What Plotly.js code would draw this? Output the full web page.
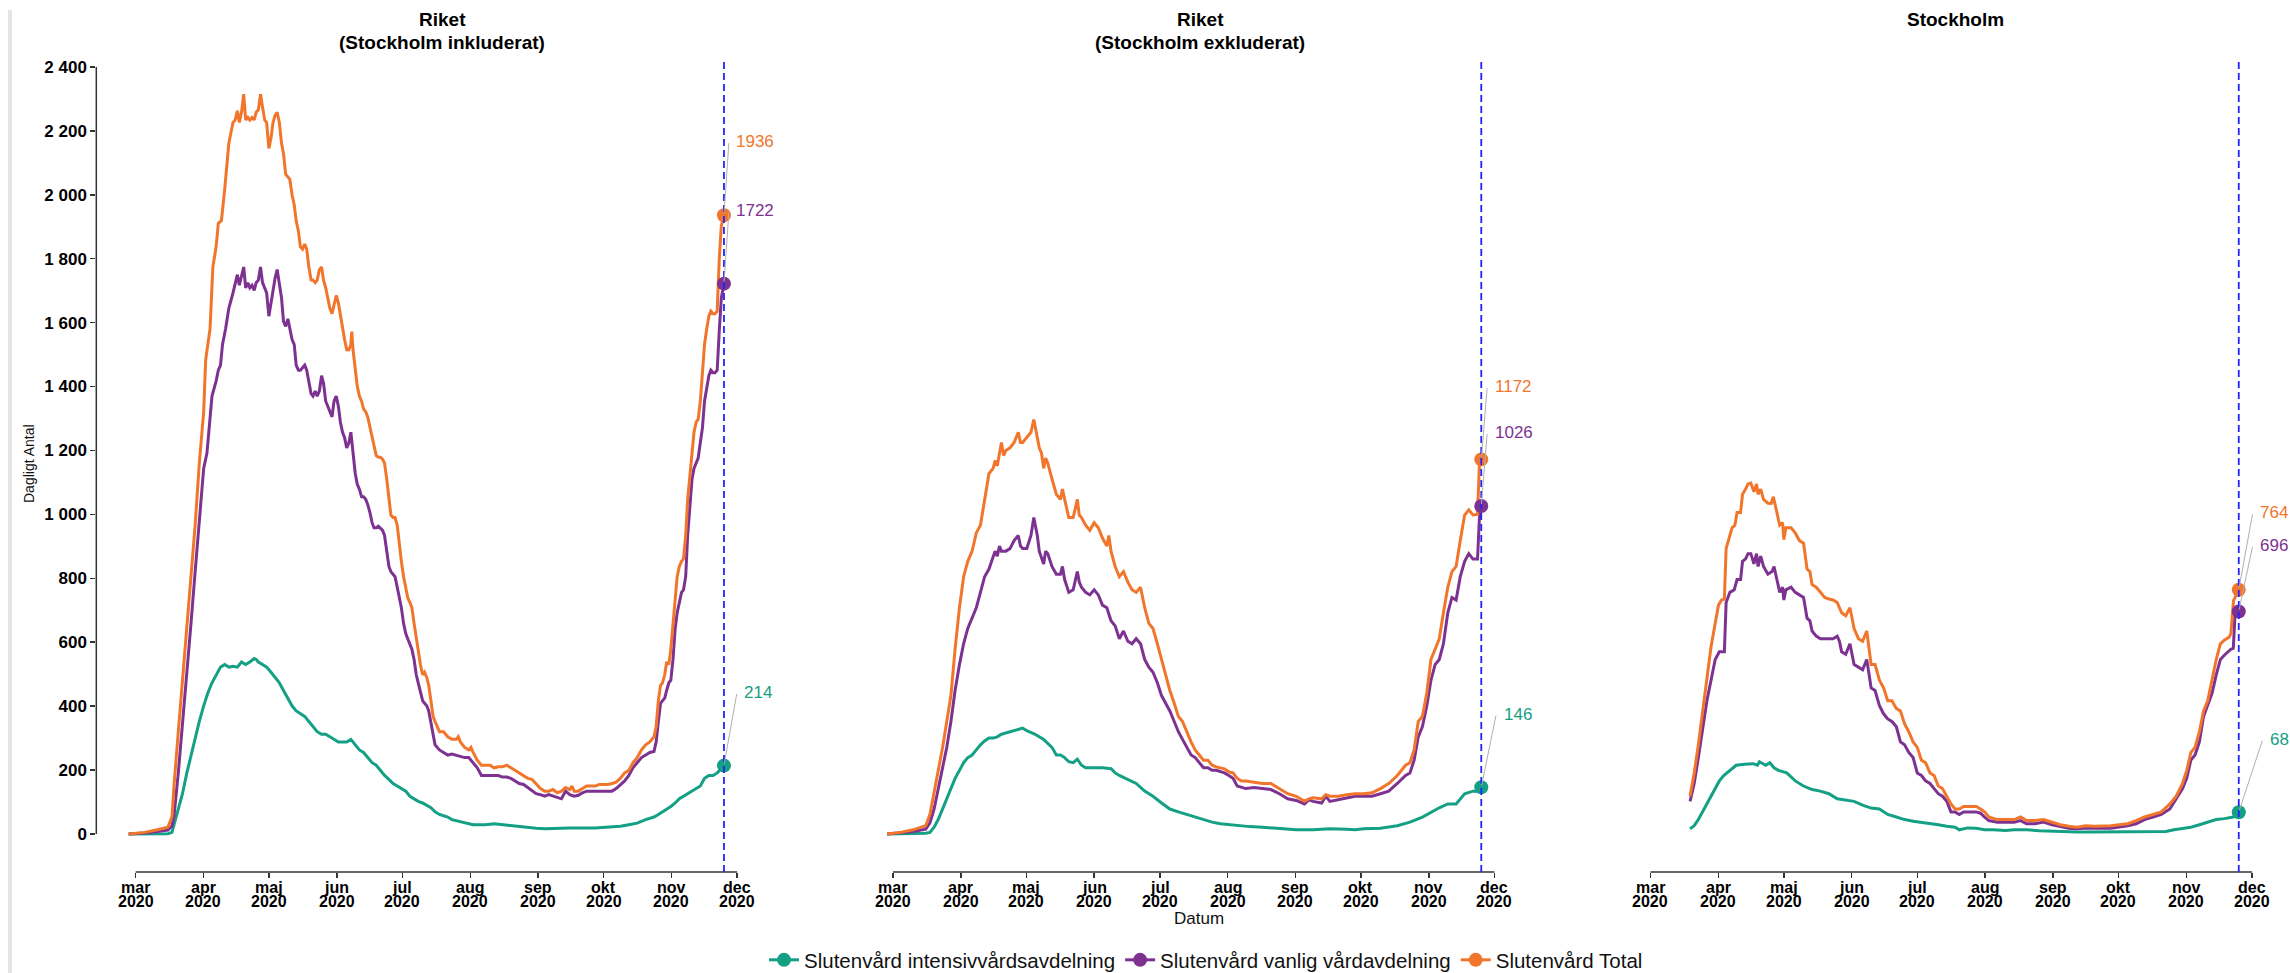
<!DOCTYPE html>
<html>
<head>
<meta charset="utf-8">
<script src="https://cdn.plot.ly/plotly-3.0.1.min.js"></script>
<style>
html,body{margin:0;padding:0;background:#ffffff;}
#chart{width:2290px;height:973px;}
</style>
</head>
<body>
<div id="chart"></div>
<script>
// ---------------- DATA (day offset from 2020-03-01, value) ----------------
const baseDay = '2020-03-01';
const months = ['mar','apr','maj','jun','jul','aug','sep','okt','nov','dec'];
const monthStarts = ['2020-03-01','2020-04-01','2020-05-01','2020-06-01','2020-07-01','2020-08-01','2020-09-01','2020-10-01','2020-11-01','2020-12-01'];
const tickYear = '2020';
const yTickVals = [0,200,400,600,800,1000,1200,1400,1600,1800,2000,2200,2400];
const yTickText = ['0','200','400','600','800','1 000','1 200','1 400','1 600','1 800','2 000','2 200','2 400'];
const seriesNames = ['Slutenvård intensivvårdsavdelning','Slutenvård vanlig vårdavdelning','Slutenvård Total'];
const panelTitles = [['Riket','(Stockholm inkluderat)'],['Riket','(Stockholm exkluderat)'],['Stockholm']];

// Riket (Stockholm inkluderat)
const inkl_iva = [[-3.2,0],[4.1,0],[9.9,0],[14.7,1],[16.6,5],[17.6,29],[19.5,78],[21.4,126],[23.4,191],[25.3,247],[27.2,296],[29.1,352],[31.1,401],[33.0,441],[34.9,473],[36.8,498],[38.8,522],[40.7,530],[42.6,522],[44.5,525],[46.5,522],[48.4,538],[50.3,530],[52.2,538],[54.2,549],[55.1,546],[56.1,538],[58.0,530],[59.9,522],[61.9,506],[63.8,490],[65.7,473],[67.6,449],[69.6,425],[71.5,401],[73.4,385],[75.3,376],[77.3,368],[79.2,352],[81.1,336],[83.0,320],[85.0,312],[86.9,312],[88.8,304],[90.7,296],[92.7,288],[94.6,288],[96.5,288],[98.4,296],[100.4,279],[102.3,263],[104.2,255],[106.1,239],[108.1,223],[110.0,215],[111.9,199],[113.8,183],[115.8,171],[117.7,158],[119.6,150],[121.5,142],[123.5,134],[125.4,118],[127.3,110],[129.2,102],[131.2,97],[133.1,89],[135.0,82],[136.9,69],[138.9,61],[140.8,57],[142.7,53],[144.6,45],[146.6,42],[148.5,40],[150.4,37],[152.3,32],[154.3,29],[156.2,29],[160.0,29],[163.9,32],[167.7,29],[171.6,26],[175.4,23],[179.3,19],[183.1,18],[187.0,16],[190.8,16],[194.7,18],[198.5,19],[202.4,18],[206.2,19],[210.1,19],[213.9,21],[217.8,23],[221.6,24],[225.5,29],[229.3,34],[233.2,45],[237.0,53],[239.0,61],[240.9,69],[242.8,78],[244.7,86],[246.7,97],[248.6,110],[250.5,118],[252.4,126],[254.4,134],[256.3,142],[258.2,150],[260.1,174],[262.1,183],[264.0,183],[265.9,191],[267.8,204],[269,214]];
const inkl_vanlig = [[-3.2,0],[4.1,3],[9.9,8],[14.7,12],[16.6,25],[17.6,61],[19.5,191],[21.4,336],[23.4,498],[25.3,659],[27.2,821],[29.1,966],[31.1,1144],[32.6,1192],[34.0,1305],[34.9,1370],[36.8,1418],[37.8,1451],[38.8,1467],[39.7,1531],[41.1,1580],[42.6,1645],[44.5,1693],[45.5,1725],[46.5,1750],[47.4,1717],[48.4,1750],[49.4,1774],[50.3,1709],[51.3,1725],[52.2,1709],[53.2,1717],[54.2,1701],[55.1,1725],[56.1,1733],[57.1,1774],[58.0,1725],[59.0,1709],[59.9,1693],[60.9,1620],[61.9,1661],[62.8,1709],[63.8,1741],[64.7,1766],[65.7,1725],[66.7,1677],[67.6,1604],[68.6,1588],[69.6,1612],[70.5,1580],[71.5,1548],[72.5,1531],[73.4,1467],[74.4,1451],[75.3,1451],[76.3,1459],[77.3,1467],[78.2,1451],[79.2,1418],[80.2,1378],[81.1,1370],[82.1,1386],[83.0,1370],[84.0,1386],[85.0,1434],[85.9,1410],[86.9,1354],[87.9,1338],[88.8,1321],[89.8,1305],[90.7,1354],[91.7,1370],[92.7,1338],[93.6,1289],[94.6,1257],[95.5,1241],[96.5,1208],[97.5,1224],[98.4,1257],[99.4,1192],[100.4,1128],[101.3,1095],[102.3,1079],[103.3,1055],[104.2,1055],[105.2,1047],[106.1,1031],[107.1,1006],[108.1,974],[109.0,958],[110.0,958],[111.0,963],[111.9,958],[112.9,950],[113.8,934],[114.8,885],[115.8,837],[116.7,821],[117.7,813],[118.6,805],[119.6,772],[120.6,740],[121.5,708],[122.5,659],[123.5,627],[124.4,611],[125.4,595],[126.3,578],[127.3,546],[128.3,498],[129.2,473],[130.2,449],[131.2,417],[132.1,409],[133.1,401],[134.0,385],[135.0,352],[136.0,312],[136.9,279],[137.9,271],[138.9,263],[140.8,255],[142.7,247],[144.6,250],[146.6,247],[148.5,242],[150.4,239],[152.3,239],[154.3,223],[156.2,207],[158.1,183],[160.0,183],[162.0,183],[163.9,183],[165.8,183],[167.7,178],[169.7,178],[171.6,174],[173.5,166],[175.4,158],[177.4,155],[179.3,145],[181.2,134],[183.1,126],[185.1,123],[187.0,118],[188.9,123],[190.8,118],[192.8,113],[194.7,110],[196.6,134],[198.5,123],[200.5,118],[202.4,121],[204.3,129],[206.2,134],[210.1,134],[213.9,134],[217.8,134],[219.7,142],[221.6,155],[223.6,166],[225.5,183],[227.4,207],[229.3,223],[231.3,239],[233.2,247],[235.1,255],[237.0,258],[238.0,288],[239.0,352],[240.0,409],[240.9,417],[241.9,425],[242.8,449],[243.8,473],[244.7,481],[245.7,546],[246.7,643],[247.6,692],[248.6,724],[249.6,756],[250.5,764],[251.5,805],[252.4,934],[253.4,1031],[254.4,1111],[255.3,1144],[256.3,1160],[257.2,1176],[258.2,1225],[259.2,1273],[260.1,1354],[261.1,1402],[262.1,1434],[263.0,1451],[264.0,1443],[264.9,1443],[265.9,1451],[266.9,1580],[267.8,1677],[269,1722]];
const inkl_total = [[-3.2,0],[4.1,5],[9.9,13],[14.7,21],[16.6,53],[17.6,158],[19.5,320],[21.4,481],[23.4,643],[25.3,805],[27.2,966],[29.1,1160],[31.1,1321],[32.0,1483],[34.0,1580],[35.3,1774],[36.8,1838],[37.8,1911],[39.2,1919],[40.7,2016],[42.6,2161],[44.5,2226],[45.5,2234],[46.5,2263],[47.4,2226],[48.4,2258],[49.4,2315],[50.3,2234],[51.3,2242],[52.2,2234],[53.2,2242],[54.2,2234],[55.1,2258],[56.1,2266],[57.1,2315],[58.0,2275],[59.0,2234],[59.9,2226],[60.9,2145],[61.9,2178],[62.8,2226],[63.8,2250],[64.7,2258],[65.7,2226],[66.7,2161],[67.6,2129],[68.6,2064],[69.6,2056],[70.5,2048],[71.5,2000],[72.5,1968],[73.4,1919],[74.4,1887],[75.3,1838],[76.3,1830],[77.3,1846],[78.2,1830],[79.2,1774],[80.2,1733],[81.1,1733],[82.1,1725],[83.0,1733],[84.0,1766],[85.0,1774],[85.9,1733],[86.9,1709],[87.9,1669],[88.8,1645],[89.8,1628],[90.7,1661],[91.7,1685],[92.7,1661],[93.6,1620],[94.6,1588],[95.5,1548],[96.5,1515],[97.5,1515],[98.4,1531],[98.8,1572],[99.4,1515],[100.4,1451],[101.3,1402],[102.3,1370],[103.3,1354],[104.2,1330],[105.2,1321],[106.1,1305],[107.1,1273],[108.1,1241],[109.0,1208],[110.0,1184],[111.0,1179],[111.9,1179],[112.9,1173],[113.8,1160],[114.8,1111],[115.8,1047],[116.7,998],[117.7,990],[118.6,990],[119.6,966],[120.6,901],[121.5,853],[122.5,805],[123.5,772],[124.4,740],[125.4,724],[126.3,708],[127.3,659],[128.3,611],[129.2,562],[130.2,530],[131.2,498],[132.1,506],[133.1,490],[134.0,465],[135.0,417],[136.0,368],[136.9,352],[137.9,336],[138.9,320],[140.8,320],[141.7,312],[142.7,304],[144.6,296],[146.6,296],[147.5,304],[148.5,288],[150.4,271],[152.3,263],[153.3,271],[154.3,255],[156.2,231],[158.1,215],[160.0,215],[162.0,215],[163.9,207],[165.8,210],[167.7,210],[169.7,215],[171.6,207],[173.5,199],[175.4,191],[177.4,183],[179.3,174],[181.2,171],[183.1,158],[185.1,142],[187.0,134],[188.9,134],[190.8,139],[192.8,129],[194.7,134],[196.6,145],[198.5,139],[199.5,150],[200.5,134],[202.4,134],[204.3,142],[206.2,150],[208.2,150],[210.1,150],[212.0,155],[213.9,155],[215.9,155],[217.8,158],[219.7,162],[221.6,174],[223.6,191],[225.5,199],[227.4,223],[229.3,239],[231.3,263],[233.2,279],[235.1,288],[237.0,304],[238.0,336],[239.0,417],[240.0,465],[240.9,473],[241.9,498],[242.8,538],[243.8,530],[244.7,578],[245.7,659],[246.7,740],[247.6,805],[248.6,837],[249.6,853],[250.5,861],[251.5,934],[252.4,1047],[253.4,1128],[254.4,1208],[255.3,1257],[256.3,1289],[257.2,1297],[258.2,1354],[259.2,1451],[260.1,1531],[261.1,1580],[262.1,1620],[263.0,1636],[264.0,1628],[264.9,1628],[265.9,1636],[266.9,1806],[267.8,1903],[269,1936]];

// Riket (Stockholm exkluderat)
const exkl_iva = [[-2.7,0],[9.2,0],[15.0,2],[16.9,5],[18.8,21],[20.7,45],[22.7,78],[24.6,110],[26.5,142],[28.4,174],[30.4,199],[32.3,223],[34.2,239],[36.2,247],[38.1,263],[40.0,279],[41.9,291],[43.9,300],[45.8,300],[47.7,304],[49.6,312],[53.5,320],[57.3,328],[59.3,331],[61.2,323],[65.0,312],[68.9,296],[72.7,271],[74.7,247],[76.6,247],[78.5,239],[80.4,226],[82.4,223],[84.3,234],[86.2,215],[88.1,207],[92.0,207],[95.8,207],[99.7,204],[101.6,191],[103.5,183],[107.4,171],[111.2,158],[115.1,134],[118.9,118],[122.8,97],[126.6,78],[130.5,69],[134.3,61],[138.2,53],[142.0,45],[145.9,37],[149.7,32],[153.6,29],[157.4,26],[163.2,23],[169.0,21],[176.7,16],[184.4,13],[192.1,13],[199.8,16],[207.5,15],[211.3,13],[215.2,16],[222.9,18],[230.6,26],[236.4,37],[242.1,53],[246.0,69],[249.8,82],[253.7,94],[257.5,94],[261.4,126],[265.2,134],[267.1,134],[269,146]];
const exkl_vanlig = [[-2.7,0],[3.4,3],[9.2,8],[15.0,15],[16.9,35],[18.8,78],[20.7,142],[22.7,207],[24.6,271],[26.5,352],[28.4,449],[30.4,530],[32.3,595],[34.2,643],[36.2,675],[38.1,708],[40.0,756],[41.9,805],[43.9,829],[45.8,869],[46.7,885],[47.7,869],[48.7,901],[49.6,885],[51.6,885],[53.5,893],[55.4,918],[57.3,934],[58.3,901],[59.3,893],[61.2,893],[63.1,934],[64.4,990],[66.0,934],[66.9,885],[68.9,845],[69.8,885],[70.8,877],[72.7,837],[74.7,813],[76.6,813],[77.5,837],[78.5,796],[80.4,756],[82.4,764],[84.3,821],[85.2,788],[86.2,772],[88.1,756],[90.0,748],[92.0,764],[93.9,748],[95.8,716],[97.8,708],[99.7,667],[101.6,651],[103.5,611],[105.4,635],[107.4,603],[109.3,595],[111.2,611],[113.2,595],[115.1,546],[117.0,522],[118.9,506],[120.9,473],[122.8,433],[124.7,409],[126.6,385],[128.6,352],[130.5,320],[132.4,296],[134.3,271],[136.3,247],[138.2,239],[140.1,223],[142.0,207],[144.0,207],[145.9,199],[147.8,199],[149.7,194],[151.6,191],[153.6,183],[155.5,174],[157.4,150],[159.3,145],[161.3,142],[165.1,145],[169.0,142],[172.8,139],[176.7,126],[180.5,110],[184.4,105],[188.2,94],[190.2,107],[192.1,102],[196.0,97],[197.9,118],[199.8,102],[203.7,107],[207.5,113],[211.3,118],[215.2,118],[219.0,118],[222.9,126],[226.7,134],[230.6,158],[234.4,183],[236.4,191],[238.3,231],[240.2,304],[242.1,336],[244.1,401],[246.0,481],[247.9,530],[249.8,546],[251.7,595],[253.7,692],[255.6,740],[257.5,732],[259.4,805],[261.4,853],[263.3,877],[265.2,860],[267.3,860],[268.3,1010],[269,1026]];
const exkl_total = [[-2.7,0],[3.4,5],[9.2,13],[15.0,26],[16.9,61],[18.8,126],[20.7,191],[22.7,271],[24.6,352],[26.5,433],[28.4,578],[30.4,708],[32.3,805],[34.2,853],[36.2,885],[38.1,942],[40.0,966],[41.9,1047],[43.9,1128],[45.8,1144],[46.7,1168],[47.7,1152],[48.7,1192],[49.6,1225],[50.6,1184],[51.6,1200],[53.5,1208],[55.4,1225],[57.3,1257],[58.3,1225],[59.3,1225],[61.2,1241],[63.1,1257],[64.4,1297],[65.4,1257],[66.9,1208],[67.9,1192],[68.9,1144],[69.8,1176],[70.8,1160],[72.7,1111],[74.7,1063],[76.6,1047],[77.5,1079],[78.5,1047],[80.4,990],[82.4,990],[84.3,1047],[85.2,998],[86.2,990],[88.1,966],[90.0,950],[92.0,974],[93.9,958],[95.8,926],[97.8,901],[98.7,934],[99.7,885],[101.6,837],[103.5,805],[105.4,821],[107.4,788],[109.3,764],[111.2,756],[113.2,772],[115.1,708],[117.0,659],[118.9,643],[120.9,595],[122.8,546],[124.7,498],[126.6,449],[128.6,409],[130.5,368],[132.4,352],[134.3,320],[136.3,288],[138.2,263],[140.1,247],[142.0,231],[144.0,231],[145.9,215],[147.8,210],[149.7,207],[151.6,204],[153.6,194],[155.5,191],[157.4,174],[159.3,166],[161.3,166],[165.1,163],[169.0,158],[172.8,158],[176.7,142],[180.5,126],[184.4,118],[188.2,102],[190.2,110],[192.1,113],[196.0,110],[197.9,123],[199.8,118],[203.7,118],[207.5,123],[211.3,126],[215.2,126],[219.0,129],[222.9,142],[226.7,158],[230.6,183],[234.4,215],[236.4,223],[238.3,263],[240.2,352],[242.1,368],[244.1,441],[246.0,546],[247.9,578],[249.8,611],[251.7,692],[253.7,772],[255.6,821],[257.5,837],[259.4,918],[261.4,998],[263.3,1014],[265.2,998],[267.3,1000],[268.2,1165],[269,1172]];

// Stockholm
const sthlm_iva = [[18.1,16],[20.0,26],[21.9,45],[23.8,69],[25.8,94],[27.7,118],[29.6,142],[31.5,166],[33.5,183],[35.4,194],[37.3,207],[39.2,215],[43.1,218],[46.9,220],[48.9,215],[49.8,226],[52.7,215],[54.6,223],[56.5,207],[58.5,199],[62.3,191],[66.2,166],[70.0,150],[73.9,139],[77.7,134],[81.6,126],[85.4,110],[89.3,107],[93.1,102],[97.0,90],[100.9,81],[104.7,78],[108.5,61],[112.4,53],[116.2,45],[120.1,40],[123.9,37],[127.8,32],[131.6,29],[135.5,24],[139.3,21],[141.2,13],[145.1,19],[148.9,18],[152.8,13],[156.7,13],[162.4,11],[166.3,13],[172.0,13],[177.8,10],[183.6,8],[189.4,6],[195.1,6],[200.9,6],[206.7,6],[212.5,6],[218.2,6],[224.0,6],[229.8,6],[235.6,8],[239.4,13],[243.3,18],[247.1,21],[251.0,29],[254.8,37],[258.7,45],[262.5,48],[266.4,53],[269,68]];
const sthlm_vanlig = [[18.1,102],[20.0,158],[21.9,239],[23.8,328],[25.8,417],[27.7,481],[29.6,546],[31.5,570],[33.8,570],[34.6,724],[36.3,756],[38.3,764],[39.6,796],[41.2,796],[42.1,853],[43.5,861],[44.6,877],[45.9,877],[47.3,845],[48.5,877],[49.2,837],[50.4,869],[51.7,837],[53.7,813],[55.6,821],[56.5,837],[57.5,805],[59.1,756],[60.4,772],[61.0,732],[61.9,764],[64.3,772],[66.2,756],[68.1,748],[70.0,740],[71.6,675],[72.9,667],[73.9,635],[75.8,619],[77.7,611],[83.5,611],[85.4,619],[86.4,603],[87.4,570],[89.3,562],[91.2,595],[92.2,562],[93.1,530],[95.1,522],[97.0,514],[98.9,546],[99.9,498],[100.9,457],[102.7,449],[104.7,401],[106.6,376],[108.5,360],[110.4,352],[112.4,336],[114.3,288],[116.2,279],[118.1,255],[120.1,239],[122.0,191],[123.9,183],[125.8,166],[127.8,158],[129.7,142],[131.6,126],[133.5,118],[135.5,102],[137.4,69],[139.3,69],[141.2,61],[143.2,69],[148.9,69],[150.9,65],[152.8,53],[154.7,42],[158.6,37],[166.3,37],[169.2,42],[172.0,32],[175.9,32],[179.7,37],[183.6,29],[187.4,23],[191.3,18],[195.1,16],[199.0,19],[210.5,18],[214.4,21],[218.2,26],[222.1,32],[225.9,45],[229.8,53],[233.6,61],[237.5,78],[240.4,110],[243.3,142],[245.2,174],[247.1,231],[249.0,247],[251.0,288],[252.9,368],[254.8,401],[256.8,441],[258.7,498],[260.6,546],[262.5,560],[265.4,578],[266.5,581],[267.3,690],[269,696]];
const sthlm_total = [[18.1,118],[20.0,191],[21.9,279],[23.8,385],[25.8,481],[27.7,586],[29.6,659],[31.1,716],[32.5,732],[33.8,735],[34.6,893],[35.8,926],[37.3,958],[38.6,966],[39.6,1006],[41.2,1006],[42.1,1063],[43.5,1079],[44.6,1095],[45.9,1098],[47.3,1071],[48.5,1095],[49.2,1063],[50.4,1079],[51.7,1047],[53.7,1035],[55.2,1034],[56.2,1055],[57.5,1014],[59.1,966],[60.4,974],[61.0,921],[61.9,958],[64.3,958],[66.2,942],[68.1,918],[70.0,910],[71.6,829],[72.9,821],[73.9,780],[75.8,772],[77.7,756],[79.7,740],[81.6,735],[83.5,732],[85.4,724],[86.4,708],[87.4,692],[89.3,683],[91.2,708],[92.2,675],[93.1,643],[95.1,611],[97.0,603],[98.9,635],[99.9,578],[100.9,530],[102.7,530],[104.7,481],[106.6,457],[108.5,417],[110.4,417],[112.4,393],[114.3,385],[116.2,344],[118.1,320],[120.1,288],[122.0,271],[123.9,231],[125.8,223],[127.8,191],[129.7,183],[131.6,150],[133.5,142],[135.5,118],[137.4,94],[139.3,78],[141.2,78],[143.2,86],[149.0,86],[150.9,78],[152.8,69],[154.7,53],[158.6,45],[166.3,45],[169.2,53],[172.0,42],[175.9,42],[179.7,45],[183.6,37],[187.4,29],[191.3,24],[195.1,21],[199.0,26],[202.9,24],[210.5,26],[214.4,29],[218.2,32],[222.1,42],[225.9,53],[229.8,61],[233.6,69],[237.5,94],[240.4,118],[243.3,158],[245.2,199],[247.1,255],[249.0,271],[251.0,320],[252.9,385],[254.8,417],[256.8,481],[258.7,546],[260.6,595],[262.5,607],[264.5,615],[265.4,627],[266.6,730],[269,764]];

// ---------------- STYLE / LAYOUT ----------------
const colors = ['#13A085','#7D3291','#F1762C'];
const FONT = 'Liberation Sans, Arial, Helvetica, sans-serif';
const W = 2290, H = 973;
const plotTop = 58, plotBottom = 872;
const py = p => (plotBottom - p) / (plotBottom - plotTop);
const pxX = p => p / W;
const panelPx = [[96.3, 775.2], [853.6, 1532.5], [1611.1, 2290]];
const rangeDays = [-18, 292.43];
const yRange = [-119, 2428];

const baseMs = Date.parse(baseDay + 'T00:00:00Z');
function dayToDate(d) {
  return new Date(baseMs + d * 86400000).toISOString().replace('T', ' ').slice(0, 19);
}

const panels = [
  { title: panelTitles[0], series: [inkl_iva, inkl_vanlig, inkl_total], titleX: 442,
    labels: [[17, 73, 20], [9, 72.7, 12.5], [9, 73.6, 12.5]] },
  { title: panelTitles[1], series: [exkl_iva, exkl_vanlig, exkl_total], titleX: 1200,
    labels: [[19, 73.3, 22.5], [10, 73.4, 13.5], [10, 73, 13.5]] },
  { title: panelTitles[2], series: [sthlm_iva, sthlm_vanlig, sthlm_total], titleX: 1955,
    labels: [[28, 73, 31.5], [18, 66, 21.5], [18, 77, 21.5]] }
];

const traces = [];
const annotations = [];
const shapes = [];
const layout = {
  width: W, height: H,
  margin: { l: 0, r: 0, t: plotTop, b: H - plotBottom, pad: 0, autoexpand: false },
  paper_bgcolor: '#ffffff', plot_bgcolor: '#ffffff',
  showlegend: true,
  font: { family: FONT, color: '#000000' },
  legend: {
    orientation: 'h', x: pxX(1206), xanchor: 'center', y: py(960), yanchor: 'middle',
    font: { family: FONT, size: 20.5, color: '#111111' }, bgcolor: 'rgba(0,0,0,0)',
    itemwidth: 30, tracegroupgap: 0
  },
  yaxis: {
    domain: [0, 1], range: yRange, anchor: 'x',
    tickmode: 'array', tickvals: yTickVals, ticktext: yTickText,
    ticks: 'outside', ticklen: 5, tickwidth: 1.5, tickcolor: '#333333',
    showgrid: false, zeroline: false, showline: false,
    tickfont: { family: FONT, size: 17, color: '#000000', weight: 'bold' }
  },
  annotations: annotations,
  shapes: shapes
};

// left grey border
shapes.push({ type: 'line', xref: 'paper', yref: 'paper', x0: pxX(10), x1: pxX(10), y0: py(H), y1: py(10),
  line: { color: '#e4e4e4', width: 4 }, layer: 'below' });

// y axis capped line (first to last tick)
shapes.push({ type: 'line', xref: 'paper', yref: 'y', x0: pxX(panelPx[0][0]), x1: pxX(panelPx[0][0]),
  y0: yTickVals[0], y1: yTickVals[yTickVals.length - 1], line: { color: '#333333', width: 1.5 } });

const tickFontX = { family: FONT, size: 16, color: '#000000', weight: 'bold' };

panels.forEach((p, i) => {
  const axName = i === 0 ? 'xaxis' : 'xaxis' + (i + 1);
  const xref = i === 0 ? 'x' : 'x' + (i + 1);
  layout[axName] = {
    domain: [pxX(panelPx[i][0]), pxX(panelPx[i][1])],
    range: [dayToDate(rangeDays[0]), dayToDate(rangeDays[1])],
    type: 'date', anchor: 'y',
    tickmode: 'array', tickvals: monthStarts, showticklabels: false,
    ticks: 'outside', ticklen: 5, tickwidth: 1.5, tickcolor: '#333333',
    showgrid: false, zeroline: false, showline: false
  };
  // two-row tick labels (month / year) under each month tick
  monthStarts.forEach((m, j) => {
    annotations.push({
      xref: xref, yref: 'paper', x: m, y: 0, yanchor: 'middle', yshift: -15,
      text: months[j], showarrow: false, font: tickFontX
    });
    annotations.push({
      xref: xref, yref: 'paper', x: m, y: 0, yanchor: 'middle', yshift: -29,
      text: tickYear, showarrow: false, font: tickFontX
    });
  });
  // capped x-axis line
  shapes.push({ type: 'line', xref: xref, yref: 'paper', x0: monthStarts[0], x1: monthStarts[monthStarts.length - 1],
    y0: 0, y1: 0, line: { color: '#333333', width: 1.5 } });

  // lines
  p.series.forEach((s, k) => {
    traces.push({
      type: 'scatter', mode: 'lines', xaxis: xref, yaxis: 'y',
      x: s.map(d => dayToDate(d[0])), y: s.map(d => d[1]),
      line: { color: colors[k], width: 3 }, showlegend: false, hoverinfo: 'skip', name: seriesNames[k]
    });
  });

  // last-date dashed vertical line
  const last = p.series[2][p.series[2].length - 1];
  const lastDate = dayToDate(last[0]);
  shapes.push({ type: 'line', xref: xref, yref: 'paper', x0: lastDate, x1: lastDate, y0: 0, y1: 1,
    line: { color: '#2323ff', width: 1.8, dash: '7px,4px' } });

  // end markers + labels
  p.series.forEach((s, k) => {
    const e = s[s.length - 1];
    traces.push({
      type: 'scatter', mode: 'lines+markers', xaxis: xref, yaxis: 'y',
      x: [dayToDate(e[0])], y: [e[1]], name: seriesNames[k], legendgroup: 'g' + k,
      showlegend: i === 0,
      marker: { color: colors[k], size: 14 }, line: { color: colors[k], width: 3 }, hoverinfo: 'skip'
    });
    const lab = p.labels[k];
    annotations.push({
      xref: xref, yref: 'y', x: dayToDate(e[0]), y: e[1], text: '',
      showarrow: true, arrowhead: 0, arrowwidth: 1, arrowcolor: '#b0b0b0',
      ax: lab[0] - 4, ay: -lab[1], standoff: 2
    });
    annotations.push({
      xref: xref, yref: 'y', x: dayToDate(e[0]), y: e[1], text: String(e[1]),
      showarrow: false, xanchor: 'left', yanchor: 'middle', xshift: lab[2] - 2, yshift: lab[1],
      font: { family: FONT, size: 17, color: colors[k] }
    });
  });

  // panel titles (strip)
  p.title.forEach((t, j) => {
    annotations.push({
      xref: 'paper', yref: 'paper', x: pxX(p.titleX), y: py(j === 0 ? 20 : 42),
      text: t, showarrow: false, xanchor: 'center', yanchor: 'middle',
      font: { family: FONT, size: 19, color: '#000000', weight: 'bold' }
    });
  });
});

// axis titles
annotations.push({ xref: 'paper', yref: 'paper', x: pxX(1199), y: py(918), text: 'Datum', showarrow: false,
  xanchor: 'center', yanchor: 'middle', font: { family: FONT, size: 17, color: '#111111' } });
annotations.push({ xref: 'paper', yref: 'paper', x: pxX(29), y: py(464), text: 'Dagligt Antal', showarrow: false,
  textangle: -90, xanchor: 'center', yanchor: 'middle', font: { family: FONT, size: 14, color: '#111111' } });

Plotly.newPlot('chart', traces, layout, { displayModeBar: false, staticPlot: true });
</script>
</body>
</html>
